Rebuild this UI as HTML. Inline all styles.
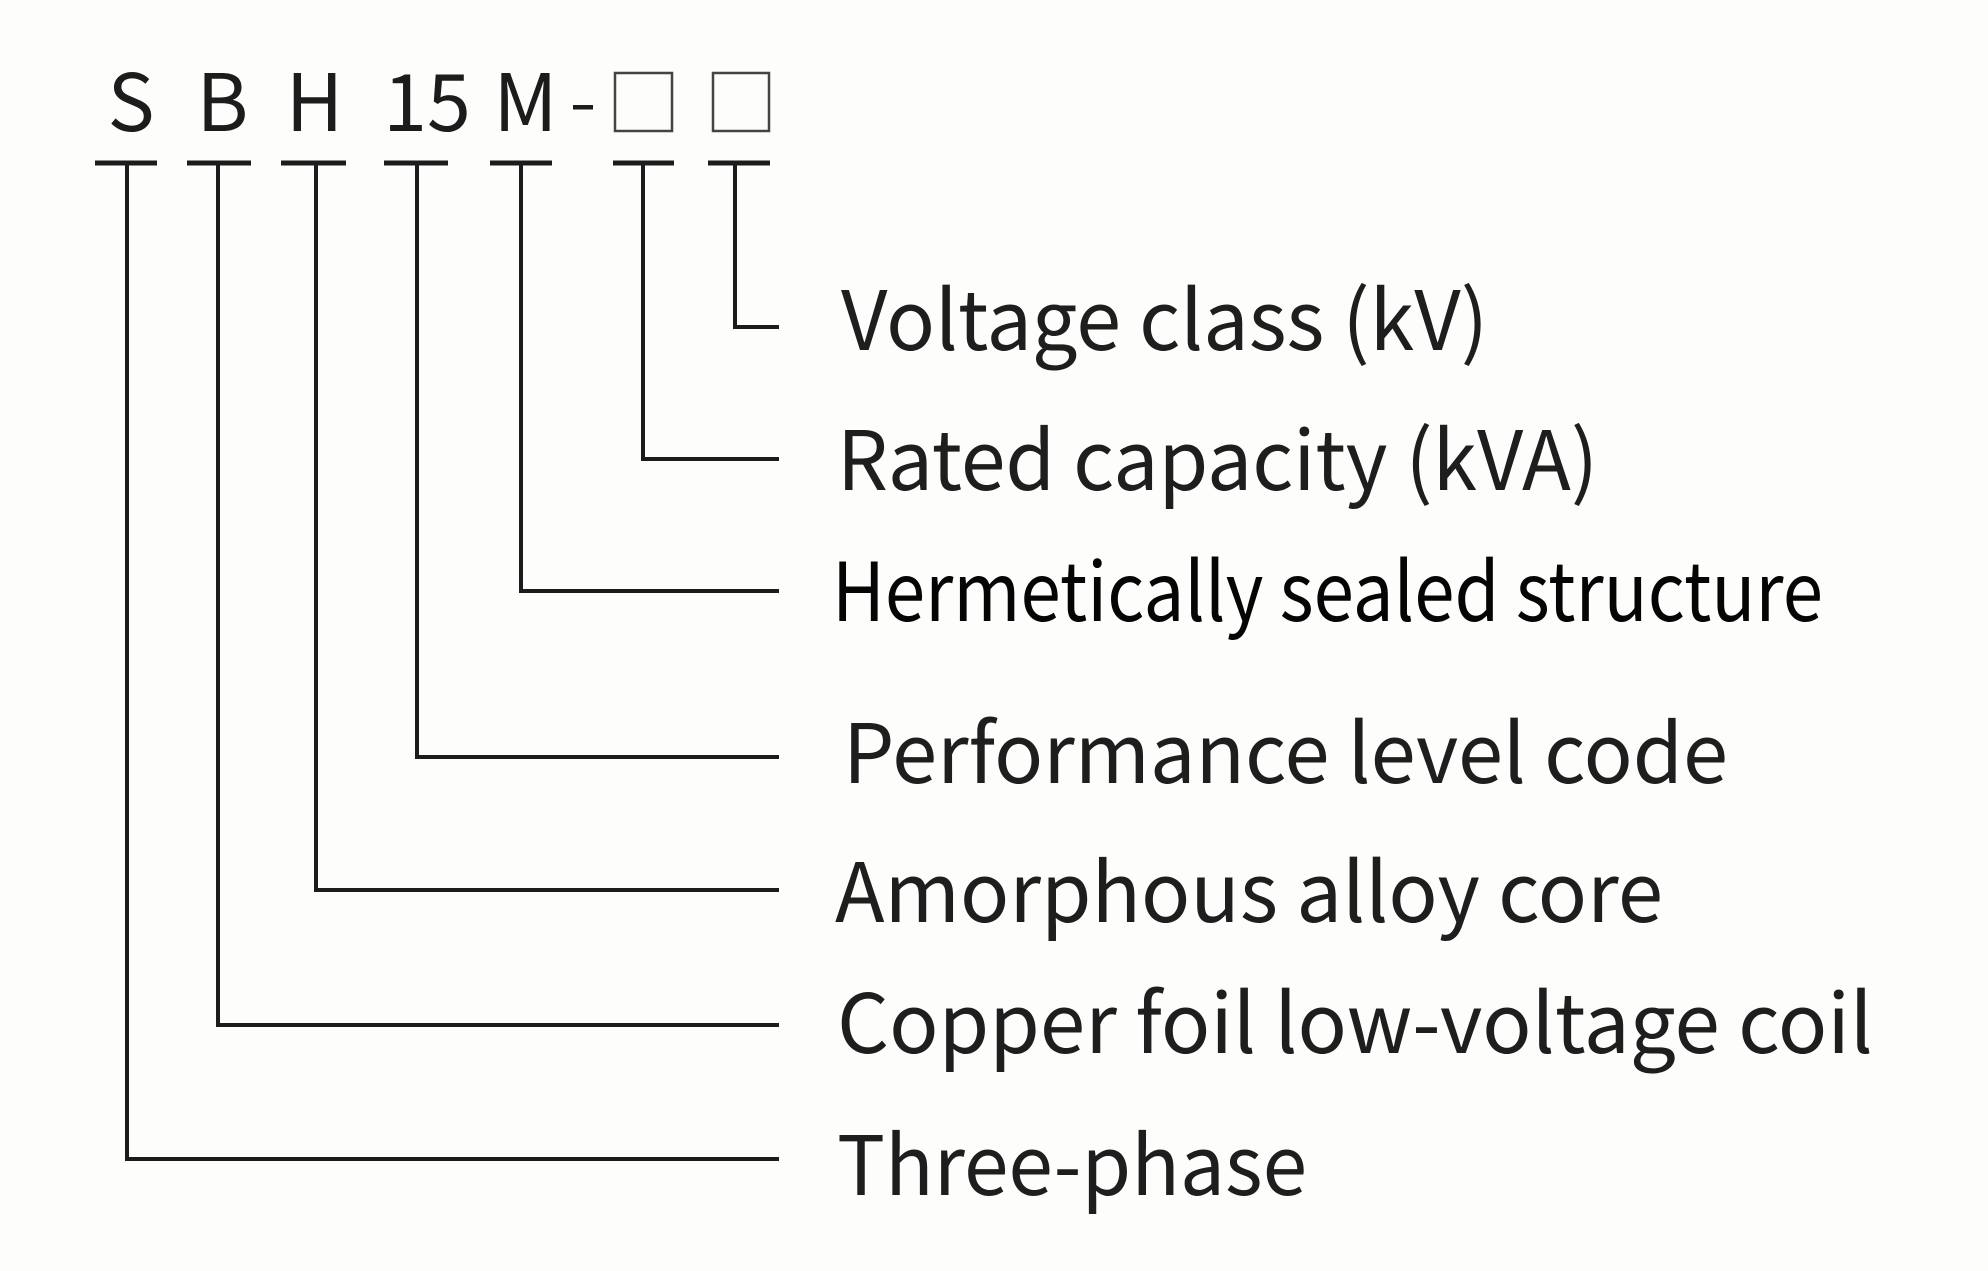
<!DOCTYPE html>
<html>
<head>
<meta charset="utf-8">
<style>
  html, body { margin:0; padding:0; background:#fdfdfb; }
  body { width:1988px; height:1271px; overflow:hidden; }
  svg { display:block; }
  .code { font-family: "Noto Sans CJK SC", "Liberation Sans", sans-serif; font-size:79px; fill:#1c1c1c; font-weight:400; }
  .lbl { font-family: "Noto Sans CJK SC", "Liberation Sans", sans-serif; font-size:82px; fill:#1e1e1e; font-weight:400; }
  .lbl2 { font-family: "Noto Sans CJK SC", "Liberation Sans", sans-serif; font-size:81px; fill:#050505; font-weight:400; }
</style>
</head>
<body>
<svg width="1988" height="1271" viewBox="0 0 1988 1271" xmlns="http://www.w3.org/2000/svg">
  <rect x="0" y="0" width="1988" height="1271" fill="#fdfdfb"/>

  <!-- code letters -->
  <text class="code" x="131" y="131" text-anchor="middle">S</text>
  <text class="code" x="222.5" y="131" text-anchor="middle">B</text>
  <text class="code" x="314.5" y="131" text-anchor="middle">H</text>
  <text class="code" x="427" y="131" text-anchor="middle">15</text>
  <text class="code" x="525.5" y="131" text-anchor="middle">M</text>
  <rect x="573" y="105" width="20" height="4.5" fill="#1c1c1c"/>
  <rect x="615" y="73" width="57" height="58" fill="none" stroke="#444" stroke-width="2.5"/>
  <rect x="713" y="73" width="56" height="58" fill="none" stroke="#444" stroke-width="2.5"/>

  <!-- top bars -->
  <g fill="#1c1c1c">
    <rect x="95" y="160.5" width="62" height="5"/>
    <rect x="187" y="160.5" width="64" height="5"/>
    <rect x="281" y="160.5" width="65" height="5"/>
    <rect x="384" y="160.5" width="64" height="5"/>
    <rect x="490" y="160.5" width="62" height="5"/>
    <rect x="613" y="160.5" width="61" height="5"/>
    <rect x="708" y="160.5" width="62" height="5"/>
  </g>

  <!-- connectors -->
  <g fill="none" stroke="#1c1c1c" stroke-width="4" stroke-linecap="butt" stroke-linejoin="miter">
    <polyline points="735,163 735,327 779,327"/>
    <polyline points="643,163 643,459 779,459"/>
    <polyline points="521,163 521,591 779,591"/>
    <polyline points="417,163 417,757 779,757"/>
    <polyline points="316,163 316,890 779,890"/>
    <polyline points="218,163 218,1025 779,1025"/>
    <polyline points="127,163 127,1159 779,1159"/>
  </g>

  <!-- labels -->
  <text class="lbl" x="841" y="350" textLength="647" lengthAdjust="spacingAndGlyphs">Voltage class (kV)</text>
  <text class="lbl" x="837" y="490" textLength="761" lengthAdjust="spacingAndGlyphs">Rated capacity (kVA)</text>
  <text class="lbl2" x="832" y="621" textLength="991" lengthAdjust="spacingAndGlyphs">Hermetically sealed structure</text>
  <text class="lbl" x="843" y="783" textLength="885" lengthAdjust="spacingAndGlyphs">Performance level code</text>
  <text class="lbl" x="835" y="922" textLength="828" lengthAdjust="spacingAndGlyphs">Amorphous alloy core</text>
  <text class="lbl" x="837" y="1053" textLength="1036" lengthAdjust="spacingAndGlyphs">Copper foil low-voltage coil</text>
  <text class="lbl" x="837" y="1195" textLength="470" lengthAdjust="spacingAndGlyphs">Three-phase</text>
</svg>
</body>
</html>
